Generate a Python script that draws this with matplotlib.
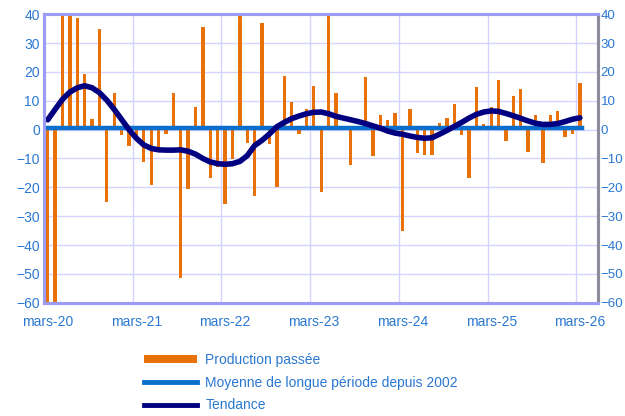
import numpy as np
import matplotlib
matplotlib.use("Agg")
import matplotlib.pyplot as plt
from matplotlib.patches import Patch
from matplotlib.lines import Line2D

plt.rcParams['font.family'] = ['Liberation Sans', 'DejaVu Sans']

# production passée, mensuelle de mars-20 à mars-26
production = [
    -62, -62, 45, 42, 38.5, 19.3, 3.6, 35.0, -24.9, 12.6, -2.0, -5.5,
    -2.4, -11.3, -19.3, -6.4, -1.5, 12.6, -51.4, -20.4, 8.0, 35.4, -16.9, -13.1,
    -25.9, -10.2, 41, -4.5, -22.9, 37.0, -4.9, -19.9, 18.7, 9.6, -1.5, 7.0,
    15.1, -21.7, 41, 12.6, 0.3, -12.2, 0.3, 18.1, -9.1, 5.0, 3.4, 5.9,
    -35.0, 7.0, -8.2, -8.7, -8.7, 2.4, 3.9, 9.0, -2.0, -16.8, 14.7, 1.9,
    8.0, 17.2, -4.1, 11.5, 14.1, -7.6, 5.0, -11.6, 5.0, 6.5, -2.6, -1.5,
    16.0,
]
tendance = [
    3.4, 7.0, 10.5, 13.0, 14.5, 15.2, 14.5, 12.8, 10.2, 7.0, 3.5, 0.0,
    -3.0, -5.3, -6.5, -7.0, -7.1, -7.1, -7.0, -7.5, -8.5, -10.0, -11.2, -11.8,
    -12.0, -11.8, -11.0, -9.0, -5.5, -3.7, -1.5, 1.0, 2.5, 3.8, 4.7, 5.5,
    6.0, 6.1, 5.5, 4.6, 4.0, 3.4, 2.8, 2.1, 1.3, 0.5, -0.5, -1.2,
    -1.6, -2.2, -2.7, -3.0, -2.8, -1.6, -0.3, 1.1, 2.5, 4.0, 5.3, 6.1,
    6.5, 6.3, 5.6, 4.8, 3.9, 3.0, 2.2, 1.8, 1.8, 2.1, 2.8, 3.6,
    4.1,
]
moyenne = 0.4
annees = ["mars-20", "mars-21", "mars-22", "mars-23", "mars-24", "mars-25", "mars-26"]

orange = "#E8710A"
bleu = "#0A6FCC"
marine = "#000080"
texte = "#2A78D2"

x = np.arange(len(production))

fig = plt.figure(figsize=(6.25, 4.16), dpi=100)
ax = fig.add_axes([0.0704, 0.272, 0.887, 0.694])

# grille
for k in range(0, 7):
    ax.axvline(12 * k - 0.5, color="#D4D4FF", lw=1.0, zorder=0)
for v in range(-50, 40, 10):
    ax.axhline(v, color="#D4D4FF", lw=1.0, zorder=0)

ax.bar(x, production, width=0.45, color=orange, zorder=2)
ax.plot([-0.5, len(production) - 0.7], [moyenne, moyenne], color=bleu, lw=3.2, zorder=3)
ax.plot(x, tendance, color=marine, lw=4, zorder=4, solid_capstyle="round")

ax.set_xlim(-0.5, 74.5)
ax.set_ylim(-60, 40)
ax.set_yticks(range(-60, 41, 10))
ax.set_xticks(range(0, 73, 12))
ax.set_xticklabels(annees)
ax.tick_params(axis="both", length=0, labelsize=10, labelcolor=texte)
ax.tick_params(axis="x", pad=9)
ax.tick_params(axis="y", pad=3)

ax2 = ax.twinx()
ax2.set_ylim(-60, 40)
ax2.set_yticks(range(-60, 41, 10))
ax2.tick_params(axis="y", length=0, labelsize=9.6, labelcolor=texte, pad=1.5)

for a in (ax, ax2):
    for s in ("left", "top", "bottom"):
        a.spines[s].set_color("#9C9CF5")
        a.spines[s].set_linewidth(2.2)
    a.spines["right"].set_color("#8C8C9C")
    a.spines["right"].set_linewidth(2.2)

handles = [
    Patch(facecolor=orange, edgecolor="none"),
    Line2D([], [], color=bleu, lw=3.5),
    Line2D([], [], color=marine, lw=3.5),
]
labels = ["Production passée", "Moyenne de longue période depuis 2002", "Tendance"]
fig.legend(handles, labels, loc="upper left", bbox_to_anchor=(0.222, 0.165),
           frameon=False, fontsize=10, labelcolor=texte, handlelength=3.8,
           handleheight=0.5, labelspacing=0.62, borderaxespad=0, handletextpad=0.6)

fig.savefig("out.png", dpi=100)
